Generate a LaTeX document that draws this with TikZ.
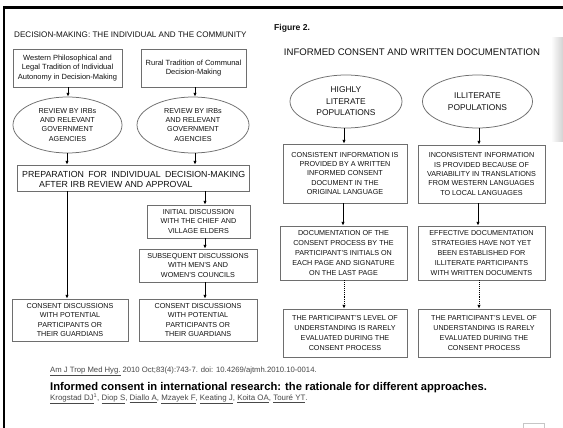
\documentclass[tikz,border=0pt]{standalone}
\usepackage{fontspec}
\setmainfont{Liberation Sans}
\usetikzlibrary{shapes.geometric,arrows.meta}
\definecolor{boxline}{HTML}{6E6E6E}
\definecolor{txt}{HTML}{111111}
\definecolor{cite}{HTML}{484848}
\tikzset{
  fbox/.style={draw=boxline, line width=0.75pt, inner sep=0pt, align=center, text=txt,
    font=\fontsize{7.2}{9.4}\selectfont},
  fell/.style={ellipse, draw=boxline, line width=0.75pt, inner sep=0pt, align=center, text=txt},
  arr/.style={-{Latex[length=3.8pt,width=3.4pt]}, line width=0.9pt, black},
  darr/.style={-{Latex[length=3.8pt,width=3.4pt]}, line width=0.9pt, black, densely dotted},
  plain/.style={inner sep=0pt, text=txt}
}
\begin{document}
\begin{tikzpicture}[x=1pt,y=-1pt]
\useasboundingbox (0,0) rectangle (563,428);
\fill[white] (0,0) rectangle (563,428);
% frame of screenshot
\fill[black] (3,6) rectangle (563,9);
\fill[black] (3,6) rectangle (5,428);
\shade[left color=white, right color=gray!35] (551,38) rectangle (563,142);
\draw[gray!45, line width=0.6pt] (523,428) -- (523,423) -- (544,423) -- (544,428);

% ---------- left panel ----------
\node[plain, anchor=base west, font=\fontsize{8.1}{10}\selectfont] (ltitle) at (14,38)
  {DECISION-MAKING: THE INDIVIDUAL AND THE COMMUNITY};

\node[fbox, minimum width=109pt, minimum height=38pt, font=\fontsize{7.5}{9.2}\selectfont] (w1) at (67.5,68)
  {Western Philosophical and\\Legal Tradition of Individual\\Autonomy in Decision-Making};
\node[fbox, minimum width=105pt, minimum height=38pt, font=\fontsize{7.5}{9.2}\selectfont] (w2) at (193.5,68)
  {Rural Tradition of Communal\\Decision-Making};

\node[fell, minimum width=109pt, minimum height=56pt, font=\fontsize{7.2}{9.1}\selectfont] (e1) at (67.5,125)
  {REVIEW BY IRBs\\AND RELEVANT\\GOVERNMENT\\AGENCIES};
\node[fell, minimum width=112pt, minimum height=56pt, font=\fontsize{7.2}{9.1}\selectfont] (e2) at (193,125)
  {REVIEW BY IRBs\\AND RELEVANT\\GOVERNMENT\\AGENCIES};

\node[fbox, minimum width=232pt, minimum height=26pt] (prep) at (133,178) {};
\node[plain, anchor=base west, font=\fontsize{8.8}{10}\selectfont] (prep1) at (22,177)
  {\makebox[223pt][s]{PREPARATION FOR INDIVIDUAL DECISION-MAKING}};
\node[plain, anchor=base west, font=\fontsize{8.8}{10}\selectfont] (prep2) at (39,187)
  {AFTER IRB REVIEW AND APPROVAL};

\node[fbox, minimum width=103pt, minimum height=33pt] (init) at (198.5,221.5)
  {INITIAL DISCUSSION\\WITH THE CHIEF AND\\VILLAGE ELDERS};
\node[fbox, minimum width=118pt, minimum height=33pt] (subs) at (198,265.5)
  {SUBSEQUENT DISCUSSIONS\\WITH MEN'S AND\\WOMEN'S COUNCILS};

\node[fbox, minimum width=116pt, minimum height=42pt] (c1) at (70,320)
  {CONSENT DISCUSSIONS\\WITH POTENTIAL\\PARTICIPANTS OR\\THEIR GUARDIANS};
\node[fbox, minimum width=118pt, minimum height=42pt] (c2) at (198,320)
  {CONSENT DISCUSSIONS\\WITH POTENTIAL\\PARTICIPANTS OR\\THEIR GUARDIANS};

\draw[arr] (w1.south -| 68,0) -- (e1.north -| 68,0);
\draw[arr] (w2.south -| 195,0) -- (e2.north -| 195,0);
\draw[arr] (e1.south -| 67,0) -- (prep.north -| 67,0);
\draw[arr] (e2.south -| 195,0) -- (prep.north -| 195,0);
\draw[arr] (prep.south -| 67,0) -- (c1.north -| 67,0);
\draw[arr] (prep.south -| 205,0) -- (init.north -| 205,0);
\draw[arr] (init.south -| 205,0) -- (subs.north -| 205,0);
\draw[arr] (subs.south -| 205,0) -- (c2.north -| 205,0);

% ---------- right panel ----------
\node[plain, anchor=base west, font=\bfseries\fontsize{8.6}{10}\selectfont] (fig) at (274,31) {Figure 2.};
\node[plain, anchor=base, font=\fontsize{9.6}{11}\selectfont] (rtitle) at (412,55.5)
  {INFORMED CONSENT AND WRITTEN DOCUMENTATION};

\node[fell, minimum width=112pt, minimum height=53pt, font=\fontsize{8.4}{11.5}\selectfont] (h1) at (346,101.5)
  {HIGHLY\\LITERATE\\POPULATIONS};
\node[fell, minimum width=110pt, minimum height=53pt, font=\fontsize{8.4}{11.5}\selectfont] (h2) at (477.5,101.5)
  {ILLITERATE\\POPULATIONS};

\node[fbox, minimum width=124pt, minimum height=59pt] (b1) at (345,173.5)
  {CONSISTENT INFORMATION IS\\PROVIDED BY A WRITTEN\\INFORMED CONSENT\\DOCUMENT IN THE\\ORIGINAL LANGUAGE};
\node[fbox, minimum width=127pt, minimum height=58pt] (b2) at (481.5,174)
  {INCONSISTENT INFORMATION\\IS PROVIDED BECAUSE OF\\VARIABILITY IN TRANSLATIONS\\FROM WESTERN LANGUAGES\\TO LOCAL LANGUAGES};
\node[fbox, minimum width=127pt, minimum height=54pt, font=\fontsize{7.2}{9.8}\selectfont] (b3) at (343.5,253)
  {DOCUMENTATION OF THE\\CONSENT PROCESS BY THE\\PARTICIPANT'S INITIALS ON\\EACH PAGE AND SIGNATURE\\ON THE LAST PAGE};
\node[fbox, minimum width=127pt, minimum height=54pt, font=\fontsize{7.2}{9.8}\selectfont] (b4) at (481.5,253)
  {EFFECTIVE DOCUMENTATION\\STRATEGIES HAVE NOT YET\\BEEN ESTABLISHED FOR\\ILLITERATE PARTICIPANTS\\WITH WRITTEN DOCUMENTS};
\node[fbox, minimum width=124pt, minimum height=48pt, font=\fontsize{7.2}{10}\selectfont] (b5) at (345,333)
  {THE PARTICIPANT'S LEVEL OF\\UNDERSTANDING IS RARELY\\EVALUATED DURING THE\\CONSENT PROCESS};
\node[fbox, minimum width=132pt, minimum height=48pt, font=\fontsize{7.2}{10}\selectfont] (b6) at (484,333)
  {THE PARTICIPANT'S LEVEL OF\\UNDERSTANDING IS RARELY\\EVALUATED DURING THE\\CONSENT PROCESS};

\draw[arr] (h1.south -| 344,0) -- (b1.north -| 344,0);
\draw[arr] (h2.south -| 479,0) -- (b2.north -| 479,0);
\draw[arr] (b1.south -| 343,0) -- (b3.north -| 343,0);
\draw[arr] (b2.south -| 478,0) -- (b4.north -| 478,0);
\draw[darr] (b3.south -| 344,0) -- (b5.north -| 344,0);
\draw[darr] (b4.south -| 479,0) -- (b6.north -| 479,0);

% ---------- citation ----------
\node[plain, anchor=base west, text=cite, font=\fontsize{7.7}{9}\selectfont] (cit) at (50,372)
  {\underline{Am J Trop Med Hyg.} 2010 Oct;83(4):743-7. doi: 10.4269/ajtmh.2010.10-0014.};
\node[plain, anchor=base west, text=black, font=\bfseries\fontsize{11.2}{13}\selectfont] (art) at (50,390)
  {Informed consent in international research: the rationale for different approaches.};
\node[plain, anchor=base west, text=cite, font=\fontsize{7.9}{9}\selectfont] (auth) at (50,400.5)
  {\underline{Krogstad DJ}\textsuperscript{1}, \underline{Diop S}, \underline{Diallo A}, \underline{Mzayek F}, \underline{Keating J}, \underline{Koita OA}, \underline{Touré YT}.};
\end{tikzpicture}
\end{document}
